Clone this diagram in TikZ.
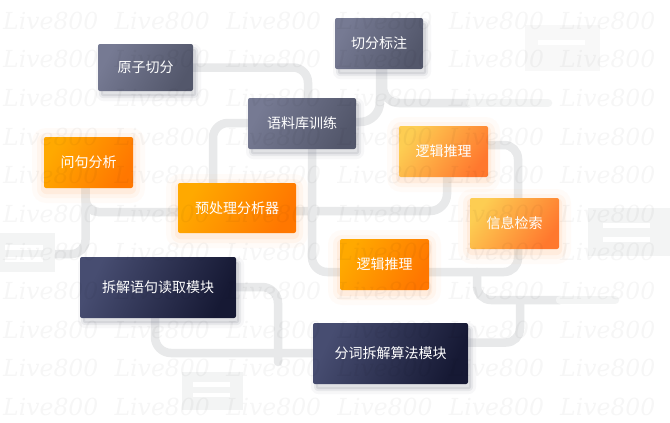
\documentclass[tikz,border=0pt]{standalone}
\usepackage{fontspec}
\newfontfamily\cjk{Noto Sans CJK SC}
\newfontfamily\wmfont{DejaVu Serif}
\usetikzlibrary{backgrounds,calc}
\definecolor{slateL}{HTML}{767A93}
\definecolor{slateR}{HTML}{53576B}
\definecolor{orgL}{HTML}{FFA900}
\definecolor{orgR}{HTML}{FF7700}
\definecolor{ltoL}{HTML}{FDCD52}
\definecolor{ltoR}{HTML}{FF782E}
\definecolor{navyL}{HTML}{474D71}
\definecolor{navyR}{HTML}{161934}
\definecolor{pipecol}{HTML}{E8E9EA}
\definecolor{pipefade}{HTML}{F3F4F4}
\definecolor{iconcol}{HTML}{F3F4F4}
\definecolor{glowcol}{HTML}{FF9A40}
\definecolor{shcol}{HTML}{6C6F82}
\begin{document}
\begin{tikzpicture}[x=1pt,y=-1pt,
  pipe/.style={draw=pipecol, line width=8.5pt, line cap=round, rounded corners=#1},
  pipe/.default=15pt,
  box/.style={rounded corners=2pt, text=white, inner sep=0pt,
    font=\cjk\fontsize{14}{16}\selectfont},
  oglow/.style={
    preaction={draw=glowcol, opacity=0.035, line width=24pt, line join=round, transform canvas={yshift=-3pt}},
    preaction={draw=glowcol, opacity=0.06, line width=14pt, line join=round, transform canvas={yshift=-3pt}},
    preaction={draw=glowcol, opacity=0.09, line width=6pt, line join=round, transform canvas={yshift=-3pt}}},
  dshadow/.style={
    preaction={draw=shcol, fill=shcol, opacity=0.05, line width=10pt, line join=round, transform canvas={shift={(3pt,-5pt)}}},
    preaction={draw=shcol, fill=shcol, opacity=0.1, line width=4pt, line join=round, transform canvas={shift={(3pt,-5pt)}}}},
  slatebox/.style={box, dshadow, left color=slateL, right color=slateR, shading angle=60},
  orgbox/.style={box, oglow, left color=orgL, right color=orgR, shading angle=60},
  ltobox/.style={box, oglow, left color=ltoL, right color=ltoR, shading angle=55},
  navybox/.style={box, dshadow, left color=navyL, right color=navyR, shading angle=65},
  wmark/.style={font=\wmfont\itshape\fontsize{23.5}{24}\selectfont,
    text=black, fill opacity=0.035, text opacity=0.035, inner sep=0pt, anchor=base west},
  ibar/.style={fill=white}
  ]
\useasboundingbox (0,0) rectangle (670,423);

% boxes
\node[slatebox, minimum width=95pt, minimum height=47pt] (yzqf) at (145.5,67.5) {原子切分};
\node[slatebox, minimum width=88pt, minimum height=51pt] (qfbz) at (379,43.5) {切分标注};
\node[slatebox, minimum width=108pt, minimum height=51pt] (ylk) at (302,123.5) {语料库训练};
\node[ltobox, minimum width=89pt, minimum height=51pt] (ljtla) at (443.5,151.5) {逻辑推理};
\node[orgbox, minimum width=89pt, minimum height=51pt] (wjfx) at (88.5,162.5) {问句分析};
\node[orgbox, minimum width=118pt, minimum height=50pt] (ycl) at (237,208) {预处理分析器};
\node[ltobox, minimum width=89pt, minimum height=51pt] (xxjs) at (514.5,223.5) {信息检索};
\node[orgbox, minimum width=89pt, minimum height=51pt] (ljtlb) at (384.5,264.5) {逻辑推理};
\node[navybox, minimum width=156pt, minimum height=61pt] (cjyj) at (158,287.5) {拆解语句读取模块};
\node[navybox, minimum width=155pt, minimum height=61pt] (fc) at (390.5,353.5) {分词拆解算法模块};

\begin{pgfonlayer}{background}
\fill[white] (0,0) rectangle (670,423);
% pipes
\draw[pipe] (yzqf.east) -| ($(ylk.north)+(6,0)$);
\draw[pipe=20pt] ($(qfbz.south)+(1,0)$) |- ($(ylk.east)+(0,-1.5)$);
\draw[pipe=16pt] ($(qfbz.south)+(4,0)$) |- (470,103);
\draw[draw=pipefade, line width=8.5pt, line cap=round] (470,103) -- (548,103);
\draw[pipe] ($(ylk.west)+(0,-0.5)$) -| ($(ycl.north)+(-24,0)$);
\draw[pipe] ($(ylk.south)+(10,0)$) |- ($(ljtlb.west)+(0,7.5)$);
\draw[pipe=14pt] ($(ljtlb.east)+(0,7.5)$) -| ($(xxjs.south)+(3.5,0)$);
\draw[pipe=14pt] ($(ljtla.east)+(0,-6.5)$) -| ($(xxjs.north)+(3.5,0)$);
\draw[pipe=17pt] ($(ljtla.south)+(3.5,0)$) |- ($(ycl.east)+(0,3)$);
\draw[pipe=13pt] ($(wjfx.south)+(-3,0)$) |- ($(ycl.west)+(0,4)$);
\draw[pipe=14pt] ($(wjfx.south)+(-3,0)$) |- (40,254);
\draw[pipe=16pt] ($(cjyj.east)+(0,-0.5)$) -| (278,362);
\draw[pipe=16pt] ($(cjyj.south)+(-3,0)$) |- ($(fc.west)+(0,-0.5)$);
\draw[pipe=14pt] (477,272) |- (560,300);
\draw[draw=pipefade, line width=8.5pt, line cap=round] (560,300) -- (615,300);
\draw[pipe=14pt] ($(fc.east)+(0,-11)$) -| (520,300);
% faint icons
\fill[iconcol!60!white] (525,25) rectangle (600,71);
\fill[ibar] (538,40) rectangle (585,45);
\fill[iconcol] (588,208) rectangle (670,256);
\fill[ibar] (603,223) rectangle (650,228);
\fill[ibar] (603,237) rectangle (650,242);
\fill[iconcol] (0,233) rectangle (55,272);
\fill[ibar] (5,245) rectangle (43,250);
\fill[ibar] (5,257) rectangle (43,262);
\fill[iconcol] (182,372) rectangle (243,410);
\fill[ibar] (193,382) rectangle (230,387);
\fill[ibar] (193,393) rectangle (230,397);
\end{pgfonlayer}

% watermark
\foreach \r in {0,...,10}{
  \foreach \c in {0,...,5}{
    \node[wmark] (wm-\r-\c) at ({3+111.4*\c},{29.3+38.6*\r}) {Live800};
  }
}
\end{tikzpicture}
\end{document}
